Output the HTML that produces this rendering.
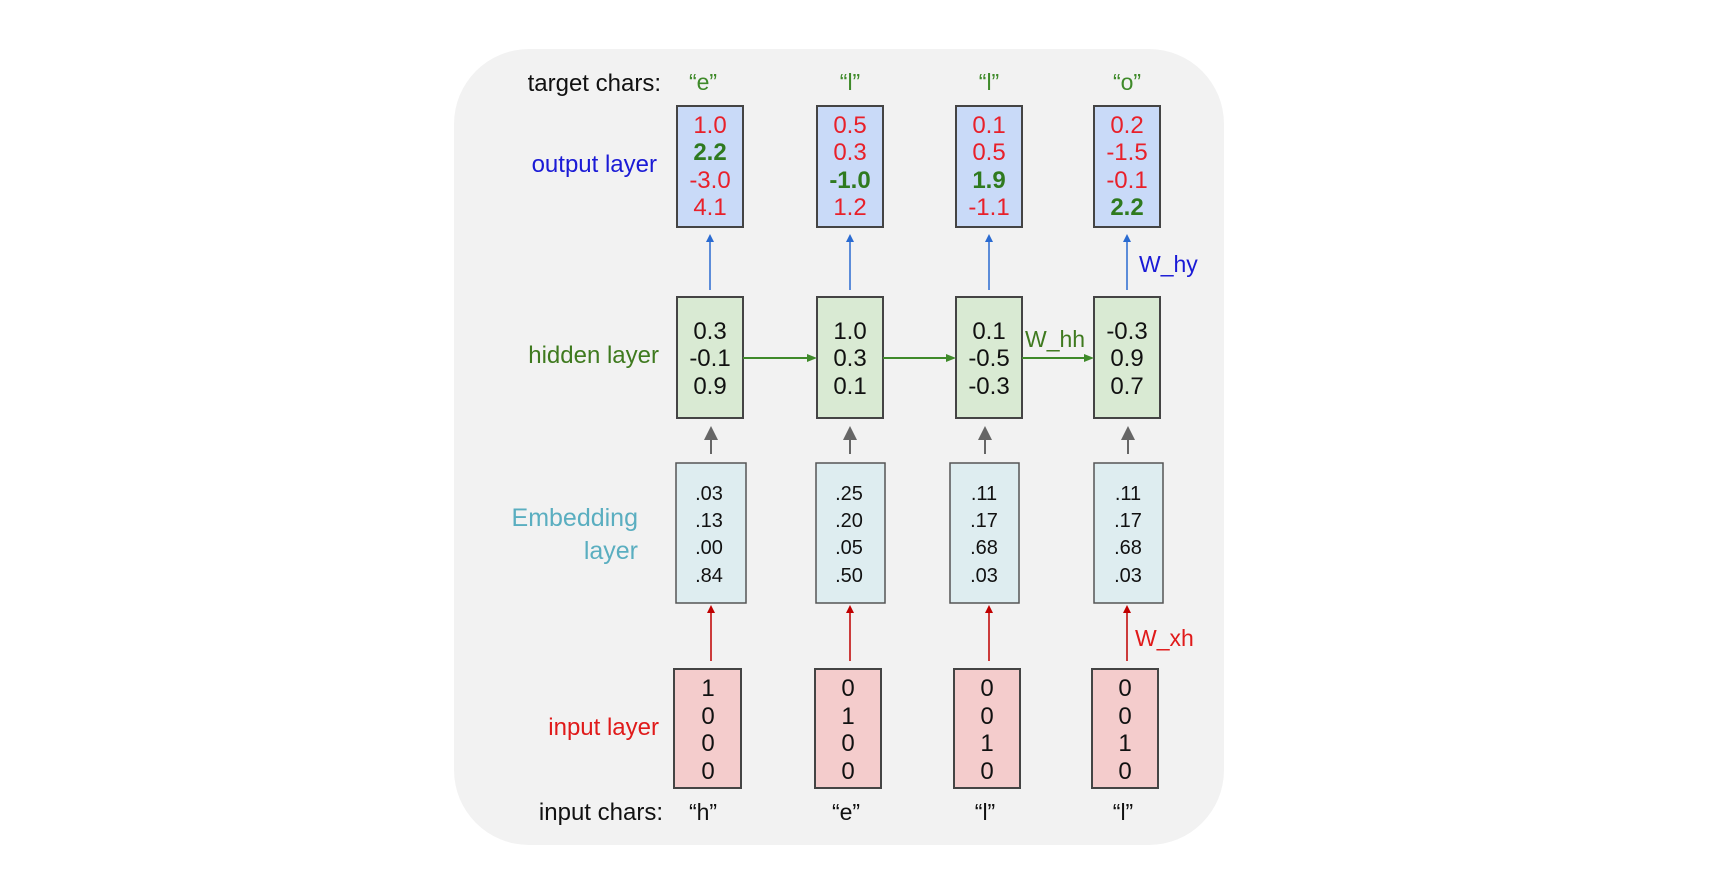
<!DOCTYPE html>
<html><head><meta charset="utf-8"><style>
html,body{margin:0;padding:0;background:#fff;}
svg{display:block;}
text{font-family:"Liberation Sans",sans-serif;}
</style></head><body>
<svg width="1717" height="885" viewBox="0 0 1717 885">
<defs>
<marker id="ab" markerWidth="8" markerHeight="8" refX="4" refY="4" orient="auto" markerUnits="userSpaceOnUse"><path d="M0,0 L8,4 L0,8z" fill="#2a6bd1"/></marker>
<marker id="ag" markerWidth="10" markerHeight="10" refX="5" refY="5" orient="auto" markerUnits="userSpaceOnUse"><path d="M0,1 L10,5 L0,9z" fill="#3f8a2a"/></marker>
<marker id="ar" markerWidth="8" markerHeight="8" refX="4" refY="4" orient="auto" markerUnits="userSpaceOnUse"><path d="M0,0 L8,4 L0,8z" fill="#c00000"/></marker>
<marker id="ay" markerWidth="14" markerHeight="14" refX="7" refY="7" orient="auto" markerUnits="userSpaceOnUse"><path d="M0,0 L14,7 L0,14z" fill="#666"/></marker>
</defs>
<rect x="454" y="49" width="770" height="796" rx="75" fill="#f2f2f2"/>

<!-- labels -->
<g font-size="24">
<text x="661" y="91" text-anchor="end" fill="#111">target chars:</text>
<text x="657" y="172" text-anchor="end" fill="#1a1ad6">output layer</text>
<text x="659" y="363" text-anchor="end" fill="#3f7a1f">hidden layer</text>
<text x="638" y="526" text-anchor="end" fill="#5aaec0" font-size="25">Embedding</text>
<text x="638" y="559" text-anchor="end" fill="#5aaec0" font-size="25">layer</text>
<text x="659" y="735" text-anchor="end" fill="#e01a1a">input layer</text>
<text x="663" y="820" text-anchor="end" fill="#111">input chars:</text>
</g>
<g font-size="23" fill="#3f8a2a" text-anchor="middle">
<text x="703" y="90">“e”</text><text x="850" y="90">“l”</text><text x="989" y="90">“l”</text><text x="1127" y="90">“o”</text>
</g>
<g font-size="23" fill="#111" text-anchor="middle">
<text x="703" y="820">“h”</text><text x="846" y="820">“e”</text><text x="985" y="820">“l”</text><text x="1123" y="820">“l”</text>
</g>

<!-- output boxes -->
<g stroke="#444" stroke-width="2" fill="#c9daf8">
<rect x="677" y="106" width="66" height="121"/><rect x="817" y="106" width="66" height="121"/>
<rect x="956" y="106" width="66" height="121"/><rect x="1094" y="106" width="66" height="121"/>
</g>
<g font-size="24" text-anchor="middle" fill="#e8202a">
<text x="710" y="133">1.0</text><text x="710" y="160" fill="#2f7a1f" font-weight="bold">2.2</text><text x="710" y="188">-3.0</text><text x="710" y="215">4.1</text>
<text x="850" y="133">0.5</text><text x="850" y="160">0.3</text><text x="850" y="188" fill="#2f7a1f" font-weight="bold">-1.0</text><text x="850" y="215">1.2</text>
<text x="989" y="133">0.1</text><text x="989" y="160">0.5</text><text x="989" y="188" fill="#2f7a1f" font-weight="bold">1.9</text><text x="989" y="215">-1.1</text>
<text x="1127" y="133">0.2</text><text x="1127" y="160">-1.5</text><text x="1127" y="188">-0.1</text><text x="1127" y="215" fill="#2f7a1f" font-weight="bold">2.2</text>
</g>

<!-- hidden boxes -->
<g stroke="#444" stroke-width="2" fill="#d9ead3">
<rect x="677" y="297" width="66" height="121"/><rect x="817" y="297" width="66" height="121"/>
<rect x="956" y="297" width="66" height="121"/><rect x="1094" y="297" width="66" height="121"/>
</g>
<g font-size="24" text-anchor="middle" fill="#111">
<text x="710" y="339">0.3</text><text x="710" y="366">-0.1</text><text x="710" y="394">0.9</text>
<text x="850" y="339">1.0</text><text x="850" y="366">0.3</text><text x="850" y="394">0.1</text>
<text x="989" y="339">0.1</text><text x="989" y="366">-0.5</text><text x="989" y="394">-0.3</text>
<text x="1127" y="339">-0.3</text><text x="1127" y="366">0.9</text><text x="1127" y="394">0.7</text>
</g>

<!-- embedding boxes -->
<g stroke="#555" stroke-width="1.5" fill="#deedf0">
<rect x="676" y="463" width="70" height="140"/><rect x="816" y="463" width="69" height="140"/>
<rect x="950" y="463" width="69" height="140"/><rect x="1094" y="463" width="69" height="140"/>
</g>
<g font-size="20" text-anchor="middle" fill="#111">
<text x="709" y="500">.03</text><text x="709" y="527">.13</text><text x="709" y="554">.00</text><text x="709" y="582">.84</text>
<text x="849" y="500">.25</text><text x="849" y="527">.20</text><text x="849" y="554">.05</text><text x="849" y="582">.50</text>
<text x="984" y="500">.11</text><text x="984" y="527">.17</text><text x="984" y="554">.68</text><text x="984" y="582">.03</text>
<text x="1128" y="500">.11</text><text x="1128" y="527">.17</text><text x="1128" y="554">.68</text><text x="1128" y="582">.03</text>
</g>

<!-- input boxes -->
<g stroke="#444" stroke-width="2" fill="#f4cccc">
<rect x="674" y="669" width="67" height="119"/><rect x="815" y="669" width="66" height="119"/>
<rect x="954" y="669" width="66" height="119"/><rect x="1092" y="669" width="66" height="119"/>
</g>
<g font-size="24" text-anchor="middle" fill="#111">
<text x="708" y="696">1</text><text x="708" y="724">0</text><text x="708" y="751">0</text><text x="708" y="779">0</text>
<text x="848" y="696">0</text><text x="848" y="724">1</text><text x="848" y="751">0</text><text x="848" y="779">0</text>
<text x="987" y="696">0</text><text x="987" y="724">0</text><text x="987" y="751">1</text><text x="987" y="779">0</text>
<text x="1125" y="696">0</text><text x="1125" y="724">0</text><text x="1125" y="751">1</text><text x="1125" y="779">0</text>
</g>

<!-- blue arrows -->
<g stroke="#2a6bd1" stroke-width="1.5" marker-end="url(#ab)">
<line x1="710" y1="290" x2="710" y2="238"/><line x1="850" y1="290" x2="850" y2="238"/>
<line x1="989" y1="290" x2="989" y2="238"/><line x1="1127" y1="290" x2="1127" y2="238"/>
</g>
<!-- green arrows -->
<g stroke="#3f8a2a" stroke-width="2" marker-end="url(#ag)">
<line x1="743" y1="358" x2="812" y2="358"/><line x1="883" y1="358" x2="951" y2="358"/>
<line x1="1022" y1="358" x2="1089" y2="358"/>
</g>
<!-- gray arrows -->
<g stroke="#666" stroke-width="2" marker-end="url(#ay)">
<line x1="711" y1="454" x2="711" y2="433"/><line x1="850" y1="454" x2="850" y2="433"/>
<line x1="985" y1="454" x2="985" y2="433"/><line x1="1128" y1="454" x2="1128" y2="433"/>
</g>
<!-- red arrows -->
<g stroke="#c00000" stroke-width="1.5" marker-end="url(#ar)">
<line x1="711" y1="661" x2="711" y2="609"/><line x1="850" y1="661" x2="850" y2="609"/>
<line x1="989" y1="661" x2="989" y2="609"/><line x1="1127" y1="661" x2="1127" y2="609"/>
</g>

<text x="1139" y="272" font-size="23" fill="#1a1ad6">W_hy</text>
<text x="1025" y="347" font-size="23" fill="#3f7a1f">W_hh</text>
<text x="1135" y="646" font-size="23" fill="#e01a1a">W_xh</text>
</svg>
</body></html>
